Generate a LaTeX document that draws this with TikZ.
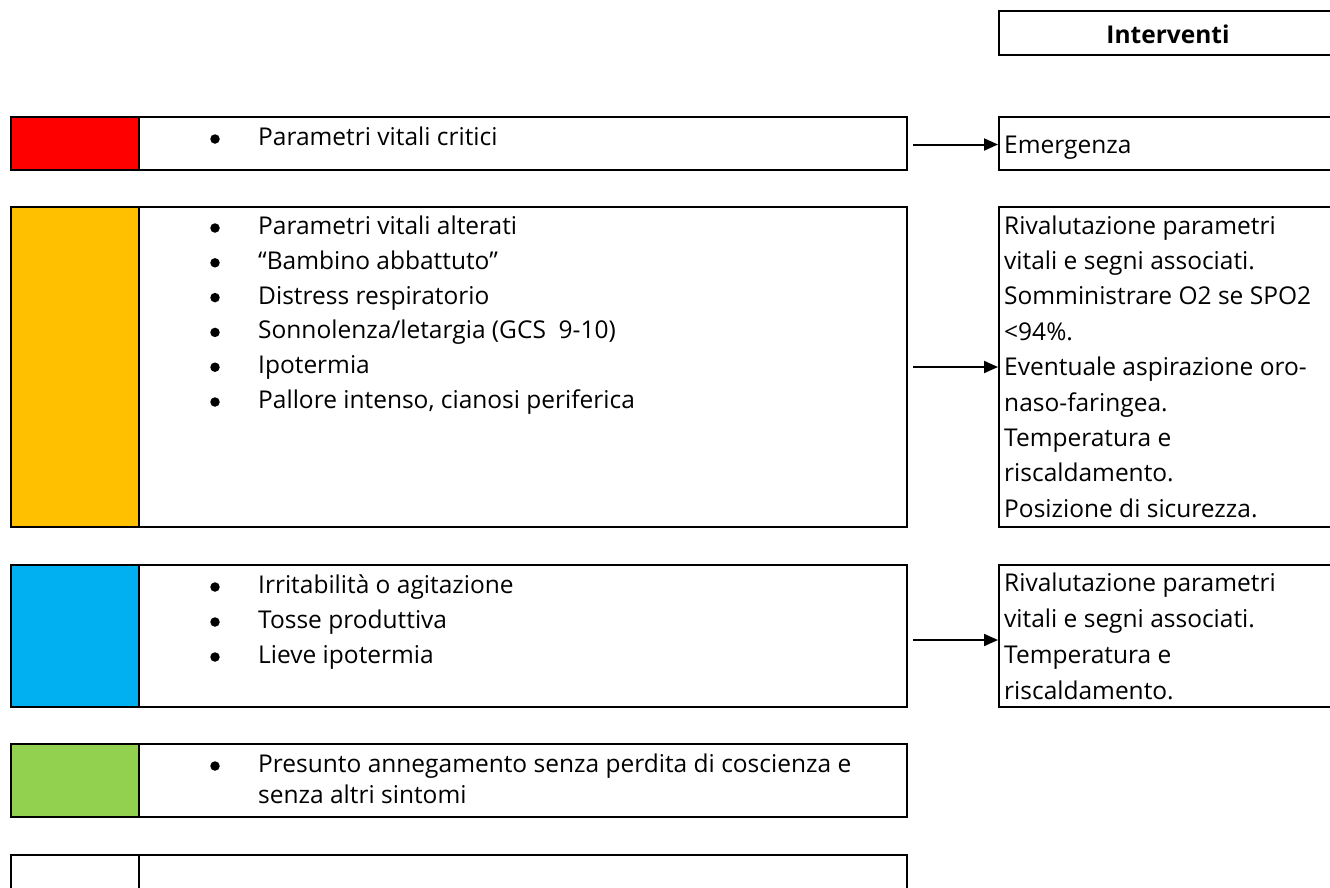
\documentclass[tikz,border=0pt]{standalone}
\usepackage{fontspec}
\setmainfont{Open Sans}
\usetikzlibrary{arrows.meta}
\definecolor{critred}{HTML}{FF0000}
\definecolor{altorange}{HTML}{FFC000}
\definecolor{mildblue}{HTML}{00B0F0}
\definecolor{okgreen}{HTML}{92D050}
\tikzset{
  frame/.style={draw=black, line width=2pt, rectangle, inner sep=0pt},
  colorcell/.style={frame, minimum width=128pt},
  textcell/.style={frame, minimum width=768pt},
  actbox/.style={frame, minimum width=338pt},
  txt/.style={font=\fontsize{24.5}{30}\selectfont, anchor=base west, inner sep=0pt},
  bul/.style={circle, fill=black, inner sep=0pt, minimum size=9.5pt},
  arr/.style={-{Triangle[length=14pt,width=12pt]}, line width=2pt},
}
\begin{document}
\begin{tikzpicture}[x=1pt,y=-1pt]
\useasboundingbox (0,0) rectangle (1330,887);
\clip (0,0) rectangle (1330,887);

% header of the interventions column
\node[actbox, minimum height=44pt] (hdr) at (1168,33) {};
\node[txt, anchor=base, font=\fontsize{24.5}{30}\selectfont\bfseries] (hdrt) at (1168,43) {Interventi};

% red row
\node[colorcell, fill=critred, minimum height=53pt] (r1c) at (75,143.5) {};
\node[textcell, minimum height=53pt] (r1t) at (523,143.5) {};
\node[bul] (r1b1) at (215,139) {};
\node[txt] (r1l1) at (258,145.5) {Parametri vitali critici};
\node[actbox, minimum height=53pt] (a1) at (1168,143.5) {};
\node[txt] (a1l1) at (1004,153) {Emergenza};

% orange row
\node[colorcell, fill=altorange, minimum height=320pt] (r2c) at (75,367) {};
\node[textcell, minimum height=320pt] (r2t) at (523,367) {};
\foreach \i/\s in {0/{Parametri vitali alterati},
                   1/{“Bambino abbattuto”},
                   2/{Distress respiratorio},
                   3/{Sonnolenza/letargia (GCS\ \ 9-10)},
                   4/{Ipotermia},
                   5/{Pallore intenso, cianosi periferica}}{
  \node[bul] (r2b\i) at (215,{228+34.8*\i}) {};
  \node[txt] (r2l\i) at (258,{234.5+34.8*\i}) {\s};
}
\node[actbox, minimum height=320pt] (a2) at (1168,367) {};
\foreach \i/\s in {0/{Rivalutazione parametri},
                   1/{vitali e segni associati.},
                   2/{Somministrare O2 se SPO2},
                   3/{<94\%.},
                   4/{Eventuale aspirazione oro-},
                   5/{naso-faringea.},
                   6/{Temperatura e},
                   7/{riscaldamento.},
                   8/{Posizione di sicurezza.}}{
  \node[txt] (a2l\i) at (1004,{234+35.4*\i}) {\s};
}

% blue row
\node[colorcell, fill=mildblue, minimum height=142pt] (r3c) at (75,636) {};
\node[textcell, minimum height=142pt] (r3t) at (523,636) {};
\foreach \i/\s in {0/{Irritabilità o agitazione},
                   1/{Tosse produttiva},
                   2/{Lieve ipotermia}}{
  \node[bul] (r3b\i) at (215,{587+35*\i}) {};
  \node[txt] (r3l\i) at (258,{593.5+35*\i}) {\s};
}
\node[actbox, minimum height=142pt] (a3) at (1168,636) {};
\foreach \i/\s in {0/{Rivalutazione parametri},
                   1/{vitali e segni associati.},
                   2/{Temperatura e},
                   3/{riscaldamento.}}{
  \node[txt] (a3l\i) at (1004,{591.5+36*\i}) {\s};
}

% green row
\node[colorcell, fill=okgreen, minimum height=73pt] (r4c) at (75,780.5) {};
\node[textcell, minimum height=73pt] (r4t) at (523,780.5) {};
\node[bul] (r4b0) at (215,766) {};
\node[txt] (r4l0) at (258,772.5) {Presunto annegamento senza perdita di coscienza e};
\node[txt] (r4l1) at (258,803) {senza altri sintomi};

% last, empty row (runs past the lower edge)
\node[colorcell, minimum height=60pt] (r5c) at (75,885) {};
\node[textcell, minimum height=60pt] (r5t) at (523,885) {};

% connectors to the interventions
\draw[arr] ([xshift=5pt,yshift=-1pt]r1t.east) -- ([yshift=-1pt]a1.west);
\draw[arr] ([xshift=5pt]r2t.east) -- (a2.west);
\draw[arr] ([xshift=5pt,yshift=-4pt]r3t.east) -- ([yshift=-4pt]a3.west);
\end{tikzpicture}
\end{document}
